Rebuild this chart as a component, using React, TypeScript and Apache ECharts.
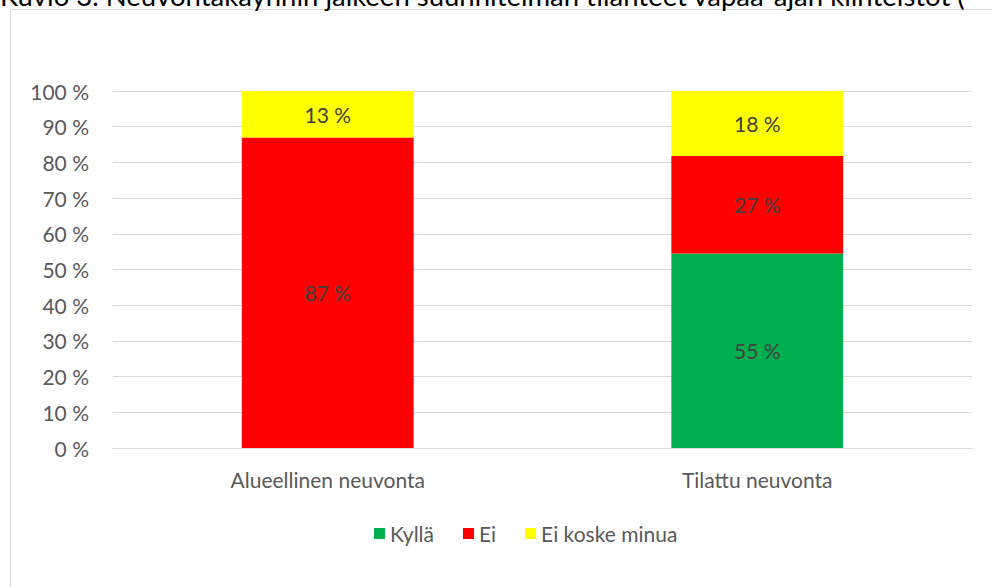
import React, { useEffect, useRef } from "react";
import * as echarts from "echarts";

const categories = ["Alueellinen neuvonta", "Tilattu neuvonta"];
const seriesNames = ["Kyllä", "Ei", "Ei koske minua"];
const kylla = [0, 54.5];
const ei = [87.0, 27.3];
const eiKoske = [13.0, 18.2];
const yTicks = [0, 10, 20, 30, 40, 50, 60, 70, 80, 90, 100];
const title = "Kuvio 3. Neuvontakäynnin jälkeen suunnitelman tilanteet vapaa-ajan kiinteistöt (";

const colors = ["#00b050", "#ff0000", "#ffff00"];
const FONT = "Lato";
const FS = 21;

export default function App() {
  const ref = useRef<HTMLDivElement>(null);
  useEffect(() => {
    if (!ref.current) return;
    const chart = echarts.init(ref.current, null, { renderer: "svg" });
    const data = [kylla, ei, eiKoske];
    chart.setOption({
      animation: false,
      backgroundColor: "#ffffff",
      textStyle: { fontFamily: FONT },
      graphic: [
        {
          type: "rect",
          shape: { x: 10.5, y: 9.5, width: 1000, height: 600 },
          style: { fill: "none", stroke: "#d9d9d9", lineWidth: 1 },
          silent: true,
        },
        {
          type: "text",
          x: 0,
          y: 9,
          style: {
            text: title,
            fill: "#000000",
            font: `27.5px "${FONT}"`,
            verticalAlign: "bottom",
          },
          silent: true,
        },
      ],
      legend: {
        data: seriesNames,
        top: 518,
        left: 369,
        itemWidth: 11,
        itemHeight: 11,
        itemGap: 29,
        icon: "rect",
        textStyle: { color: "#595959", fontSize: FS, fontFamily: FONT },
      },
      grid: { left: 113, right: 20, top: 91, bottom: 139 },
      xAxis: {
        type: "category",
        data: categories,
        axisLine: { lineStyle: { color: "#d9d9d9" } },
        axisTick: { show: false },
        axisLabel: { color: "#595959", fontSize: FS, margin: 21, fontFamily: FONT },
      },
      yAxis: {
        type: "value",
        min: 0,
        max: 100,
        interval: 10,
        axisLine: { show: false },
        axisTick: { show: false },
        axisLabel: {
          color: "#595959",
          fontSize: FS,
          margin: 24,
          fontFamily: FONT,
          formatter: (v: number) => (yTicks.includes(v) ? `${v} %` : ""),
        },
        splitLine: { lineStyle: { color: "#d9d9d9", width: 1 } },
      },
      series: seriesNames.map((name, i) => ({
        name,
        type: "bar",
        stack: "total",
        barWidth: "40%",
        data: data[i].map((v) => (v === 0 ? null : v)),
        itemStyle: { color: colors[i] },
        label: {
          show: true,
          position: "inside",
          color: "#404040",
          fontSize: FS,
          fontFamily: FONT,
          formatter: (p: any) => `${Math.round(p.value)} %`,
        },
      })),
    });
    return () => chart.dispose();
  }, []);
  return (
    <div
      ref={ref}
      style={{ position: "absolute", left: 0, top: 0, width: 992, height: 587 }}
    />
  );
}
